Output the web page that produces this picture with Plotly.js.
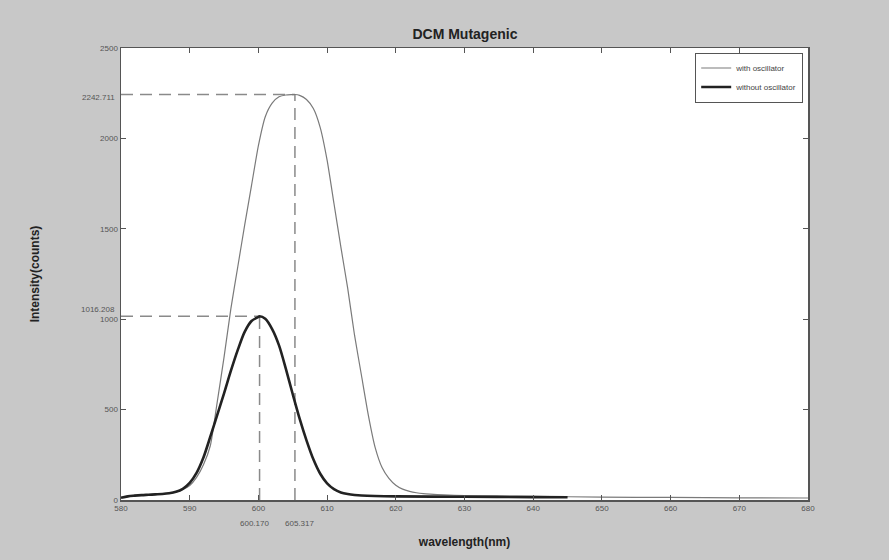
<!DOCTYPE html>
<html>
<head>
<meta charset="utf-8">
<script src="https://cdn.plot.ly/plotly-3.0.1.min.js"></script>
<style>html,body{margin:0;padding:0;background:#c8c8c8;}#chart{width:889px;height:560px;}</style>
</head>
<body>
<div id="chart"></div>
<script>
// Data
const withX = [580,581,582,583,584,585,586,587,588,589,590,591,592,593,594,595,596,597,598,599,600,601,602,603,604,605,605.317,606,607,608,609,610,611,612,613,614,615,616,617,618,619,620,621,622,623,624,625,627,630,635,640,650,660,670,680];
const withY = [15,22,26,28,30,32,35,38,45,58,80,125,195,300,540,790,1060,1290,1520,1740,1960,2120,2195,2230,2240,2242,2242.711,2238,2215,2165,2060,1880,1640,1400,1170,910,690,470,290,180,120,82,60,48,40,35,32,28,25,22,20,16,14,12,11];
const withoutX = [580,581,582,583,584,585,586,587,588,589,590,591,592,593,594,595,596,597,598,599,600,600.17,601,602,603,604,605,606,607,608,609,610,611,612,613,614,615,620,630,640,645];
const withoutY = [12,20,24,27,29,31,33,37,45,62,95,150,235,350,470,590,715,830,930,990,1013,1016.208,1002,945,855,725,585,450,330,225,145,92,60,42,33,28,25,20,18,16,15];
const seriesNames = ['with oscillator','without oscillator'];
const peakX = [605.317, 600.170];
const peakY = [2242.711, 1016.208];
const peakXLabels = ['605.317','600.170'];
const peakYLabels = ['2242.711','1016.208'];
const xTicks = [580,590,600,610,620,630,640,650,660,670,680];
const yTicks = [0,500,1000,1500,2000,2500];

const dash = {color:'#8a8a8a', width:1.5, dash:'12px,7px'};
const traces = [];
// dashed guide lines from peaks
peakX.forEach((px,i)=>{
  traces.push({x:[xTicks[0],px],y:[peakY[i],peakY[i]],mode:'lines',line:dash,showlegend:false,hoverinfo:'skip'});
  traces.push({x:[px,px],y:[yTicks[0],peakY[i]],mode:'lines',line:dash,showlegend:false,hoverinfo:'skip'});
});
traces.push({x:withX,y:withY,mode:'lines',name:seriesNames[0],line:{color:'#7a7a7a',width:1.2,shape:'spline',smoothing:0.6}});
traces.push({x:withoutX,y:withoutY,mode:'lines',name:seriesNames[1],line:{color:'#222',width:2.6,shape:'spline',smoothing:0.8}});

const font = {family:'Liberation Sans, Arial, sans-serif'};
const annotations = [];
peakX.forEach((px,i)=>{
  annotations.push({x:px,y:0,xref:'x',yref:'paper',text:peakXLabels[i],showarrow:false,yanchor:'top',yshift:-17,xshift:(i===0?5:-5),font:{family:font.family,size:8,color:'#555'}});
});
annotations.push({x:0,xref:'paper',y:peakY[0],yref:'y',text:peakYLabels[0],showarrow:false,xanchor:'right',xshift:-4,yshift:-3,font:{family:font.family,size:8,color:'#555'}});
annotations.push({x:0,xref:'paper',y:peakY[1],yref:'y',text:peakYLabels[1],showarrow:false,xanchor:'right',xshift:-4,yshift:7,font:{family:font.family,size:8,color:'#555'}});

const layout = {
  width:889,height:560,
  paper_bgcolor:'#c8c8c8',plot_bgcolor:'#ffffff',
  margin:{l:121,r:81,t:48,b:60},
  title:{text:'<b>DCM Mutagenic</b>',x:0.523,xanchor:'center',y:0.94,yanchor:'middle',font:{family:font.family,size:14,color:'#222'}},
  xaxis:{range:[580,680],tickvals:xTicks,ticktext:xTicks.map(String),ticks:'inside',ticklen:5,tickcolor:'#555',
    showline:true,linecolor:'#555',linewidth:1.5,mirror:'ticks',showgrid:false,zeroline:false,
    tickfont:{family:font.family,size:8,color:'#555'},
    title:{text:'<b>wavelength(nm)</b>',standoff:25,font:{family:font.family,size:12,color:'#222'}}},
  yaxis:{range:[0,2500],tickvals:yTicks,ticktext:yTicks.map(String),ticks:'inside',ticklen:5,tickcolor:'#555',
    showline:true,linecolor:'#555',linewidth:1.5,mirror:'ticks',showgrid:false,zeroline:false,
    tickfont:{family:font.family,size:8,color:'#555'},
    title:{text:'<b>Intensity(counts)</b>',standoff:58,font:{family:font.family,size:12,color:'#222'}}},
  legend:{x:0.993,y:0.99,xanchor:'right',yanchor:'top',bgcolor:'#fff',bordercolor:'#555',borderwidth:1,
    font:{family:font.family,size:8,color:'#444'},tracegroupgap:0,itemwidth:30},
  annotations:annotations,
  showlegend:true
};
Plotly.newPlot('chart',traces,layout,{displayModeBar:false,staticPlot:true});
</script>
</body>
</html>
